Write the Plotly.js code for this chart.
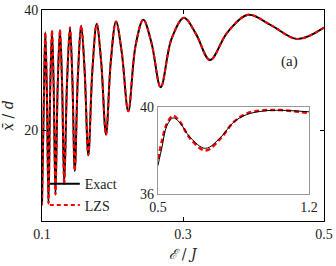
<!DOCTYPE html>
<html><head><meta charset="utf-8">
<script src="https://cdn.plot.ly/plotly-3.0.1.min.js"></script>
<style>html,body{margin:0;padding:0;background:#fff}#plot{width:336px;height:266px}</style>
</head><body><div id="plot"></div>
<script>
// main panel: energy E/J and mean position x/d
const energy = [0.1000,0.1028,0.1047,0.1069,0.1092,0.1116,0.1142,0.1166,0.1191,0.1222,0.1255,0.1285,0.1315,0.1355,0.1397,0.1430,0.1465,0.1509,0.1557,0.1605,0.1657,0.1715,0.1776,0.1840,0.1908,0.1976,0.2050,0.2132,0.2224,0.2326,0.2437,0.2554,0.2684,0.2837,0.3014,0.3185,0.3383,0.3630,0.3926,0.4246,0.4621,0.5000];
const exactMain = [7.6,26.3,36.3,26.4,7.9,26.6,36.6,27.1,9.4,27.1,36.7,27.7,11.1,28.0,37.1,28.8,13.3,29.0,37.4,29.9,15.9,30.1,37.7,31.3,19.3,31.5,38.1,32.9,23.2,34.0,38.4,34.5,27.2,35.2,38.7,36.0,31.7,36.3,39.2,37.5,35.2,37.1];
const lzsMain = [7.6,26.3,36.3,26.4,7.9,26.6,36.6,27.1,9.4,27.1,36.7,27.7,11.1,28.0,37.1,28.8,13.3,29.0,37.4,29.9,15.9,30.1,37.7,31.3,19.3,31.5,38.1,32.9,23.2,34.0,38.4,34.5,27.2,35.2,38.7,36.0,31.7,36.3,39.2,37.5,35.2,37.1];
// inset panel
const energyInset = [0.50,0.52,0.54,0.57,0.60,0.65,0.72,0.79,0.85,0.91,0.99,1.07,1.20];
const exactInset = [37.3,38.2,39.1,39.5,39.3,38.6,38.1,38.6,39.3,39.65,39.82,39.85,39.78];
const lzsInset = [37.6,38.5,39.2,39.6,39.35,38.55,38.0,38.55,39.3,39.7,39.85,39.86,39.72];
const mainTicks = [0.1,0.3,0.5];
const mainYTicks = [20,40];
const insetXTicks = [0.5,1.2];
const insetYTicks = [36,40];

const serif = 'Liberation Serif, DejaVu Serif, serif';
const traces = [
  {x: energy, y: exactMain, mode:'lines', name:'Exact', line:{color:'#000', width:2, shape:'spline', smoothing:1}, xaxis:'x', yaxis:'y'},
  {x: energy, y: lzsMain, mode:'lines', name:'LZS', line:{color:'#ff0000', width:2, dash:'4px,3px', shape:'spline', smoothing:1}, xaxis:'x', yaxis:'y'},
  {x: energyInset, y: lzsInset, mode:'lines', showlegend:false, line:{color:'#ff0000', width:2.5, dash:'5px,3px', shape:'spline', smoothing:1}, xaxis:'x2', yaxis:'y2'},
  {x: energyInset, y: exactInset, mode:'lines', showlegend:false, line:{color:'#000', width:1, shape:'spline', smoothing:1}, xaxis:'x2', yaxis:'y2'}
];
const layout = {
  width:336, height:266,
  margin:{l:42, r:12, t:10, b:45},
  paper_bgcolor:'#fff', plot_bgcolor:'#fff',
  font:{family:serif, size:14, color:'#222'},
  showlegend:true,
  legend:{x:0.01, y:0.25, xanchor:'left', yanchor:'top', bgcolor:'rgba(0,0,0,0)', font:{family:serif, size:14, color:'#222'}, itemwidth:30, tracegroupgap:0, traceorder:'normal'},
  xaxis:{domain:[0,1], range:[0.1,0.5], tickvals:mainTicks, ticktext:['0.1','0.3','0.5'], ticks:'inside', ticklen:4, tickcolor:'#000', showline:true, linecolor:'#000', linewidth:1, mirror:'ticks', showgrid:false, zeroline:false,
    title:{text:'<i>ℰ</i> / <i>J</i>', font:{family:'DejaVu Serif, serif', size:14}, standoff:8}},
  yaxis:{domain:[0,1], range:[5,40], tickvals:mainYTicks, ticks:'inside', ticklen:4, tickcolor:'#000', showline:true, linecolor:'#000', linewidth:1, mirror:'ticks', showgrid:false, zeroline:false,
    title:{text:'<i>x̄</i> / <i>d</i>', font:{family:'DejaVu Serif, serif', size:14}, standoff:8}},
  xaxis2:{domain:[0.411,0.947], anchor:'y2', range:[0.5,1.2], tickvals:insetXTicks, ticktext:['0.5','1.2'], ticks:'', showline:true, linecolor:'#999', linewidth:1, mirror:true, showgrid:false, zeroline:false},
  yaxis2:{domain:[0.128,0.540], anchor:'x2', range:[36,40], tickvals:insetYTicks, ticks:'', showline:true, linecolor:'#999', linewidth:1, mirror:true, showgrid:false, zeroline:false},
  annotations:[{text:'(a)', xref:'paper', yref:'paper', x:0.914, y:0.805, showarrow:false, font:{family:serif, size:15, color:'#222'}}]
};
Plotly.newPlot('plot', traces, layout, {staticPlot:true, displayModeBar:false});
</script></body></html>
